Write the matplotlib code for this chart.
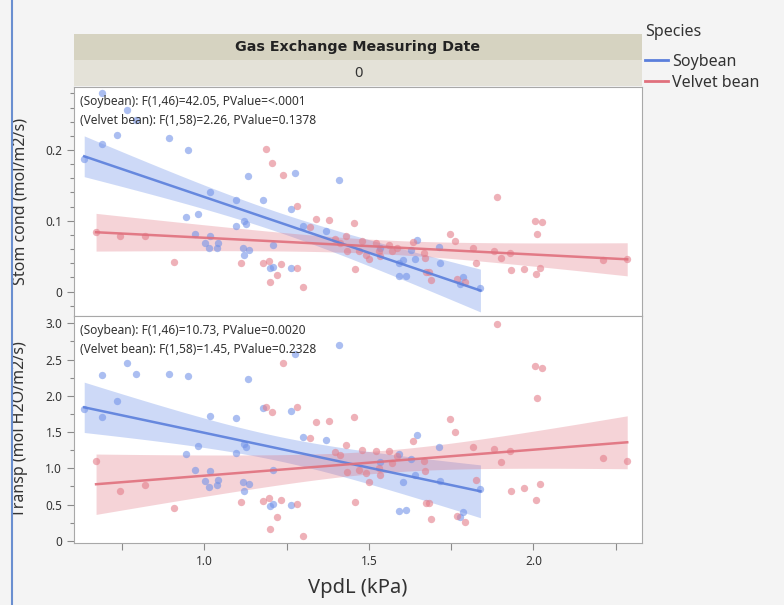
import matplotlib
matplotlib.use("Agg")
import matplotlib.pyplot as plt
import numpy as np
from matplotlib.lines import Line2D
from matplotlib.patches import Rectangle
from matplotlib.ticker import MultipleLocator, FuncFormatter

plt.rcParams['font.family'] = ['Noto Sans', 'DejaVu Sans']

# Soybean observations: VpdL (kPa), stomatal conductance, transpiration
soy_vpd = [0.690, 0.690, 0.734, 0.764, 0.791, 0.893, 0.951, 1.132, 1.276, 1.018,
           1.018, 1.095, 1.095, 1.177, 1.262, 0.944, 0.982, 1.120, 1.126, 1.301,
           1.369, 0.973, 1.003, 1.013, 1.042, 1.039, 1.117, 1.137, 1.209, 1.209,
           1.121, 1.200, 1.263, 1.408, 1.647, 1.712, 1.641, 1.603, 1.715, 1.591,
           1.612, 1.785, 1.629, 1.593, 1.776, 0.635, 1.839, 1.535]
soy_cond = [0.208, 0.281, 0.221, 0.256, 0.242, 0.217, 0.200, 0.163, 0.167, 0.140,
            0.079, 0.129, 0.092, 0.130, 0.117, 0.105, 0.110, 0.100, 0.095, 0.092,
            0.085, 0.082, 0.068, 0.061, 0.068, 0.062, 0.061, 0.059, 0.066, 0.035,
            0.052, 0.034, 0.034, 0.158, 0.073, 0.063, 0.046, 0.044, 0.041, 0.022,
            0.022, 0.020, 0.059, 0.041, 0.010, 0.187, 0.005, 0.062]
soy_transp = [1.703, 2.283, 1.924, 2.448, 2.297, 2.297, 2.269, 2.234, 2.572, 1.717,
              0.959, 1.690, 1.207, 1.828, 1.786, 1.193, 1.303, 1.331, 1.290, 1.428,
              1.386, 0.972, 0.821, 0.738, 0.834, 0.766, 0.807, 0.779, 0.972, 0.503,
              0.683, 0.476, 0.490, 2.697, 1.455, 1.290, 0.903, 0.807, 0.821, 0.407,
              0.421, 0.393, 1.124, 1.193, 0.324, 1.814, 0.710, 1.083]

# Velvet bean observations
vel_vpd = [0.671, 0.744, 0.820, 0.907, 1.112, 1.178, 1.188, 1.198, 1.199, 1.205,
           1.222, 1.233, 1.239, 1.282, 1.283, 1.301, 1.320, 1.339, 1.378, 1.398,
           1.413, 1.432, 1.434, 1.456, 1.459, 1.471, 1.480, 1.491, 1.499, 1.523,
           1.532, 1.533, 1.560, 1.571, 1.586, 1.635, 1.666, 1.671, 1.675, 1.682,
           1.688, 1.745, 1.763, 1.769, 1.791, 1.817, 1.825, 1.881, 1.889, 1.900,
           1.928, 1.933, 1.970, 2.006, 2.007, 2.010, 2.019, 2.027, 2.212, 2.285]
vel_cond = [0.084, 0.078, 0.079, 0.042, 0.041, 0.040, 0.201, 0.043, 0.013, 0.181,
            0.024, 0.039, 0.164, 0.034, 0.121, 0.006, 0.091, 0.103, 0.101, 0.074,
            0.068, 0.078, 0.057, 0.097, 0.032, 0.057, 0.072, 0.052, 0.046, 0.068,
            0.057, 0.050, 0.066, 0.058, 0.062, 0.070, 0.054, 0.048, 0.027, 0.027,
            0.017, 0.082, 0.071, 0.018, 0.013, 0.061, 0.040, 0.058, 0.133, 0.048,
            0.055, 0.031, 0.032, 0.100, 0.025, 0.082, 0.034, 0.098, 0.044, 0.046]
vel_transp = [1.100, 0.687, 0.775, 0.448, 0.531, 0.554, 1.850, 0.596, 0.168, 1.780,
              0.328, 0.568, 2.452, 0.503, 1.841, 0.062, 1.418, 1.634, 1.652, 1.225,
              1.179, 1.321, 0.949, 1.703, 0.541, 0.977, 1.252, 0.931, 0.811, 1.244,
              1.010, 0.908, 1.234, 1.073, 1.170, 1.377, 1.097, 0.963, 0.521, 0.521,
              0.306, 1.686, 1.497, 0.338, 0.255, 1.290, 0.839, 1.272, 2.990, 1.083,
              1.244, 0.683, 0.734, 2.411, 0.559, 1.966, 0.783, 2.383, 1.142, 1.100]

species = ['Soybean', 'Velvet bean']
stats_cond = ['(Soybean): F(1,46)=42.05, PValue=<.0001',
              '(Velvet bean): F(1,58)=2.26, PValue=0.1378']
stats_transp = ['(Soybean): F(1,46)=10.73, PValue=0.0020',
                '(Velvet bean): F(1,58)=1.45, PValue=0.2328']

t_crit = {46: 2.013, 58: 2.002}  # 97.5% t quantiles

pt_col = ['#7393e8', '#e47d8a']
ln_col = ['#5b7fdc', '#e0707d']
band_col = ['#5a83e6', '#e06f7d']


def fit_band(x, y):
    x = np.asarray(x)
    y = np.asarray(y)
    n = len(x)
    b1, b0 = np.polyfit(x, y, 1)
    xs = np.linspace(x.min(), x.max(), 100)
    s = np.sqrt(((y - (b0 + b1 * x)) ** 2).sum() / (n - 2))
    sxx = ((x - x.mean()) ** 2).sum()
    half = t_crit[n - 2] * s * np.sqrt(1 / n + (xs - x.mean()) ** 2 / sxx)
    fit = b0 + b1 * xs
    return xs, fit, fit - half, fit + half


fig = plt.figure(figsize=(7.84, 6.05), dpi=100, facecolor='#f4f4f4')
ax1 = fig.add_axes([0.0944, 0.4777, 0.7245, 0.3785])
ax2 = fig.add_axes([0.0944, 0.1025, 0.7245, 0.3752])

panels = [(ax1, [soy_cond, vel_cond], stats_cond),
          (ax2, [soy_transp, vel_transp], stats_transp)]
xs_all = [soy_vpd, vel_vpd]

for ax, ys, stats in panels:
    for i in range(2):
        xs, fit, lo, hi = fit_band(xs_all[i], ys[i])
        ax.fill_between(xs, lo, hi, color=band_col[i], alpha=0.3, lw=0, zorder=1)
        ax.scatter(xs_all[i], ys[i], s=28, color=pt_col[i], alpha=0.6, lw=0, zorder=2)
        ax.plot(xs, fit, color=ln_col[i], lw=1.8, alpha=0.9, zorder=3)
    ax.text(0.0106, 0.936, stats[0], transform=ax.transAxes, fontsize=8.6,
            color='#333333', va='center', ha='left', zorder=4)
    ax.text(0.0106, 0.852, stats[1], transform=ax.transAxes, fontsize=8.6,
            color='#333333', va='center', ha='left', zorder=4)
    ax.set_xlim(0.604, 2.33)
    for sp in ax.spines.values():
        sp.set_color('#a8a8a8')
    ax.tick_params(colors='#8a8a8a', labelcolor='#333333', labelsize=8.5,
                   length=5, width=0.8)
    ax.tick_params(which='minor', colors='#8a8a8a', length=3, width=0.8)

ax1.set_ylim(-0.0345, 0.289)
ax1.yaxis.set_major_locator(MultipleLocator(0.1))
ax1.yaxis.set_minor_locator(MultipleLocator(0.02))
ax1.yaxis.set_major_formatter(FuncFormatter(lambda v, _: '0' if abs(v) < 1e-9 else f'{v:.1f}'))
ax1.tick_params(axis='x', which='both', bottom=False, labelbottom=False)
ax1.spines['bottom'].set_color('#c8c8c8')
ax1.set_ylabel('Stom cond (mol/m2/s)', fontsize=11.5, color='#333333')
ax1.yaxis.set_label_coords(-0.081, 0.5)

ax2.set_ylim(-0.03, 3.10)
ax2.yaxis.set_major_locator(MultipleLocator(0.5))
ax2.yaxis.set_minor_locator(MultipleLocator(0.25))
ax2.yaxis.set_major_formatter(FuncFormatter(lambda v, _: '0' if abs(v) < 1e-9 else f'{v:.1f}'))
ax2.xaxis.set_major_locator(MultipleLocator(0.5))
ax2.xaxis.set_minor_locator(MultipleLocator(0.25))
ax2.tick_params(axis='x', which='minor', length=5)
ax2.set_ylabel('Transp (mol H2O/m2/s)', fontsize=11.5, color='#333333')
ax2.yaxis.set_label_coords(-0.081, 0.5)
ax2.set_xlabel('VpdL (kPa)', fontsize=14.5, color='#333333')
ax2.xaxis.set_label_coords(0.5, -0.155)

# header bands above the panels
fig.patches.append(Rectangle((0.0944, 0.9008), 0.7245, 0.043, transform=fig.transFigure,
                             facecolor='#d6d3c1', edgecolor='none'))
fig.patches.append(Rectangle((0.0944, 0.8579), 0.7245, 0.0429, transform=fig.transFigure,
                             facecolor='#e4e2d8', edgecolor='none'))
fig.text(0.4566, 0.9223, 'Gas Exchange Measuring Date', fontsize=10.3, family='DejaVu Sans',
         fontweight='bold', ha='center', va='center', color='#222222')
fig.text(0.4566, 0.8793, '0', fontsize=10.5, ha='center', va='center', color='#333333')

# window frame line on the left
fig.add_artist(Line2D([0.0153, 0.0153], [0, 1], transform=fig.transFigure,
                      color='#6a8fd0', lw=1.5))

# legend
fig.text(0.823, 0.947, 'Species', fontsize=11.5, ha='left', va='center', color='#333333')
handles = [Line2D([], [], color=ln_col[i], lw=2) for i in range(2)]
leg = fig.legend(handles, species, loc='upper left',
                 bbox_to_anchor=(0.823, 0.911), frameon=False, fontsize=11.5,
                 handlelength=1.45, handletextpad=0.25, labelspacing=0.3,
                 borderaxespad=0, borderpad=0)
for t in leg.get_texts():
    t.set_color('#333333')

fig.savefig('out.png', dpi=100, facecolor=fig.get_facecolor())
